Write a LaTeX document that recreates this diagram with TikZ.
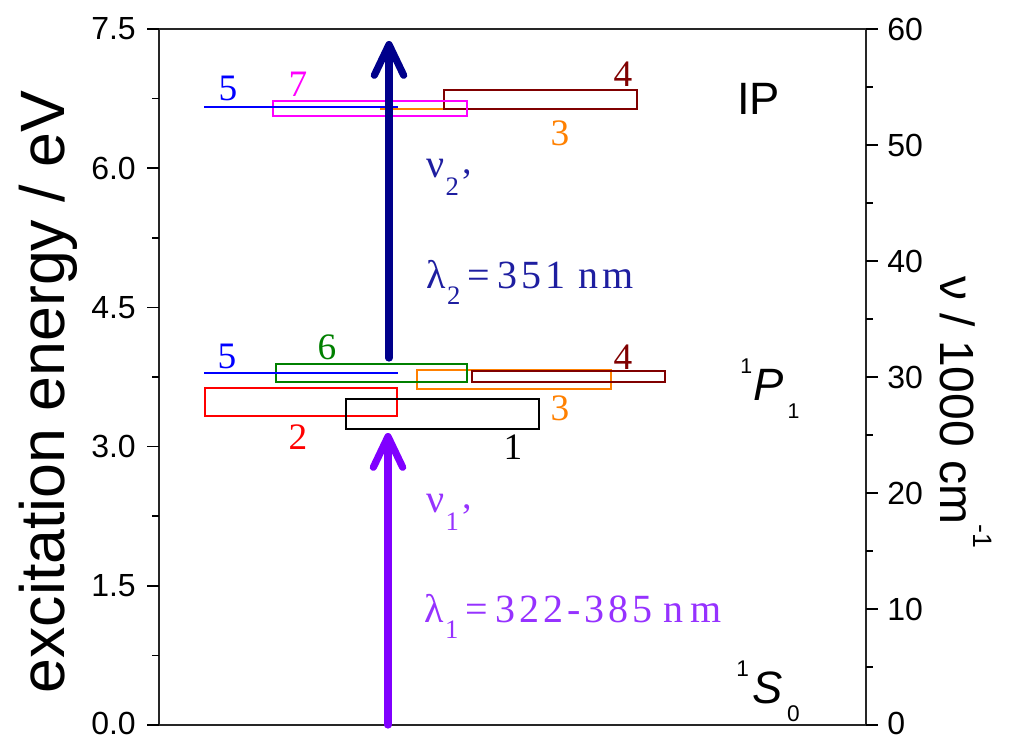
\documentclass[tikz,border=0pt]{standalone}
\usepackage{fontspec}
\setmainfont{Liberation Serif}
\setsansfont{Liberation Sans}
\usetikzlibrary{arrows.meta}
\definecolor{cblue}{RGB}{0,0,255}
\definecolor{cmag}{RGB}{255,0,255}
\definecolor{corange}{RGB}{255,128,0}
\definecolor{cbrown}{RGB}{128,0,0}
\definecolor{cgreen}{RGB}{0,128,0}
\definecolor{cred}{RGB}{255,0,0}
\definecolor{navyA}{RGB}{0,0,139}
\definecolor{navyT}{RGB}{30,30,160}
\definecolor{violA}{RGB}{128,0,255}
\definecolor{violT}{RGB}{150,50,255}
\newcommand\trk{\kern3pt}
\newcommand\subsc[2]{\raisebox{-#1}{\fontsize{20}{20}\selectfont #2}}
\newcommand\apos{\raisebox{-13pt}{\fontsize{28}{28}\selectfont ’}}
\begin{document}
\begin{tikzpicture}[x=0.75pt,y=-0.75pt,
  frame/.style={line width=1.5pt,black!85},
  tickline/.style={line width=1.1pt},
  ticklab/.style={font=\sffamily\fontsize{24}{24}\selectfont,inner sep=0},
  numlab/.style={font=\fontsize{28}{28}\selectfont,inner sep=0},
  levbox/.style={line width=1.7pt},
  bigarrow/.style={line width=5.4pt,line cap=round,
     -{Straight Barb[length=23pt,width=22pt,line cap=round,line join=round]}},
  arrtext/.style={font=\fontsize{30}{30}\selectfont,inner sep=0,anchor=base west},
  statelab/.style={font=\sffamily\fontsize{34}{34}\selectfont,inner sep=0,anchor=base west}
]
\useasboundingbox (0,0) rectangle (1009,738);
% frame
\draw[frame] (159,29) rectangle (866,725);
% left ticks
\foreach \v/\t [count=\i] in {0/0.0,1.5/1.5,3/3.0,4.5/4.5,6/6.0,7.5/7.5}{
  \pgfmathsetmacro\yy{725-92.8*\v}
  \draw[tickline] (147,\yy) -- (159,\yy);
  \node[ticklab,anchor=east] (yl\i) at (136,{min(\yy,723)}) {\t};
}
\foreach \v in {0.75,2.25,3.75,5.25,6.75}{
  \pgfmathsetmacro\yy{725-92.8*\v}
  \draw[tickline] (152,\yy) -- (159,\yy);
}
% right ticks
\foreach \v [count=\i] in {0,10,...,60}{
  \pgfmathsetmacro\yy{725-11.6*\v}
  \draw[tickline] (866,\yy) -- (878,\yy);
  \node[ticklab,anchor=west] (yr\i) at (887,{min(\yy,723)}) {\v};
}
\foreach \v in {5,15,...,55}{
  \pgfmathsetmacro\yy{725-11.6*\v}
  \draw[tickline] (866,\yy) -- (873,\yy);
}
% axis titles
\node[font=\sffamily\fontsize{47}{47}\selectfont,rotate=90,anchor=base,inner sep=0] (ylab) at (64,392) {excitation energy / eV};
\node[font=\sffamily\fontsize{36}{36}\selectfont,rotate=-90,anchor=base,inner sep=0] (rlab) at (940,412) {ν / 1000 cm\raisebox{25pt}{\fontsize{20}{20}\selectfont -1}};

% upper (IP) levels
\draw[levbox,corange] (380,109) -- (575,109);
\draw[levbox,cbrown] (444,90) rectangle (637,109);
\draw[levbox,cmag] (273,101) rectangle (467,116);
\draw[levbox,cblue] (204,107) -- (398,107);
\node[numlab,cblue] (n5a) at (228,88) {5};
\node[numlab,cmag] (n7) at (298,84) {7};
\node[numlab,cbrown] (n4a) at (623,74) {4};
\node[numlab,corange] (n3a) at (560,133) {3};

% 1P1 levels
\draw[levbox,cred] (205,388) rectangle (397,416);
\draw[levbox,black] (346,399) rectangle (539,429);
\draw[levbox,corange] (417,370) rectangle (611,389);
\draw[levbox,cbrown] (472,371) rectangle (665,382);
\draw[levbox,cgreen] (276,364) rectangle (467,382);
\draw[levbox,cblue] (204,373) -- (398,373);
\node[numlab,cblue] (n5b) at (227,356) {5};
\node[numlab,cgreen] (n6) at (327,347) {6};
\node[numlab,cbrown] (n4b) at (623,357) {4};
\node[numlab,corange] (n3b) at (560,408) {3};
\node[numlab,cred] (n2) at (298,437) {2};
\node[numlab,black] (n1) at (513,447) {1};

% arrows
\coordinate (a1s) at (388,725);
\coordinate (a1e) at (388,433);
\coordinate (a2s) at (389,358);
\coordinate (a2e) at (389,41);
\draw[bigarrow,violA] (a1s) -- (a1e);
\draw[bigarrow,navyA] (a2s) -- (a2e);

% arrow texts
\node[arrtext,navyT] (nu2) at (426,177) {ν\kern1pt\subsc{13.5pt}{2}\kern1pt\apos};
\node[arrtext,navyT] (lam2) at (426,288) {λ\kern1pt\subsc{12.5pt}{2}\kern5pt=\kern6pt 3\trk5\trk1\kern10pt n\kern3pt m};
\node[arrtext,violT] (nu1) at (426,512) {ν\kern1pt\subsc{13.5pt}{1}\kern1pt\apos};
\node[arrtext,violT] (lam1) at (424,622) {λ\kern1pt\subsc{12pt}{1}\kern5pt=\kern6pt 3\trk2\trk2\trk-\trk3\trk8\trk5\kern8pt n\kern5pt m};

% state labels
\node[statelab] (ip) at (737,115) {IP};
\node[statelab] (p1) at (740,400) {\raisebox{20pt}{\fontsize{16}{16}\selectfont 1}\kern1pt\textit{P}\kern3pt\raisebox{-14pt}{\fontsize{16}{16}\selectfont 1}};
\node[statelab] (s0) at (736,703) {\raisebox{20pt}{\fontsize{17}{17}\selectfont 1}\kern3pt\textit{S}\kern3pt\raisebox{-14pt}{\fontsize{17}{17}\selectfont 0}};
\end{tikzpicture}
\end{document}
